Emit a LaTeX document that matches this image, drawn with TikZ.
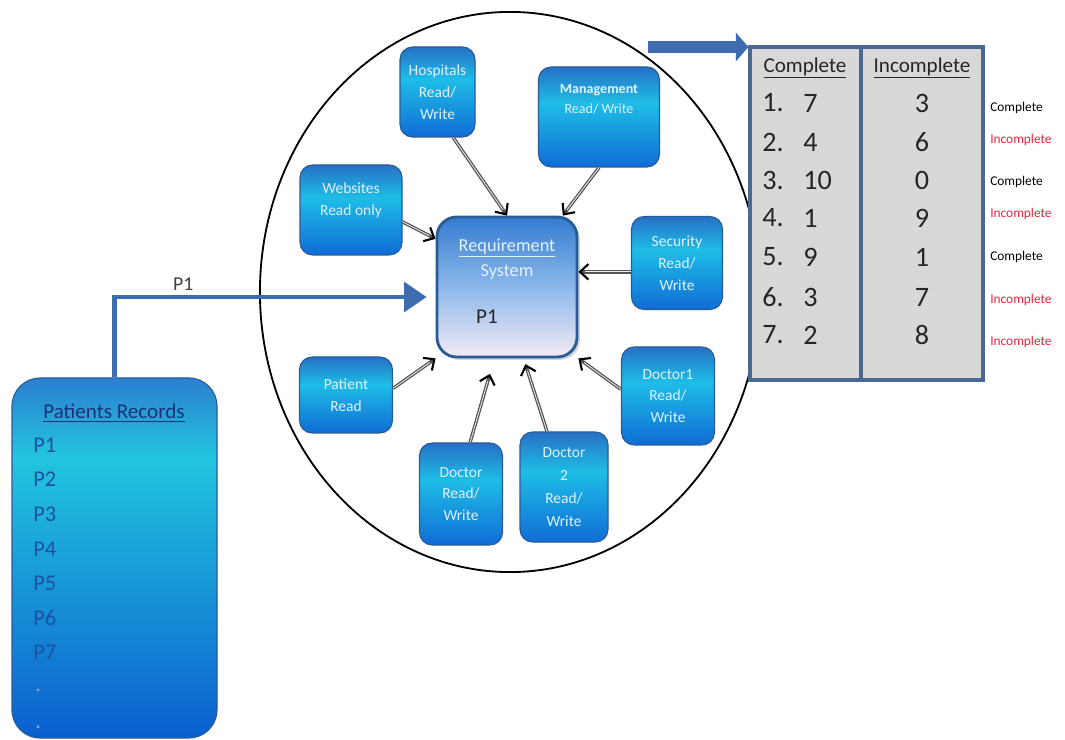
\documentclass[tikz,border=0pt]{standalone}
\usepackage{fontspec}
\setmainfont{Carlito}
\usetikzlibrary{arrows.meta,calc,shadows}
\definecolor{roletop}{RGB}{38,112,196}
\definecolor{rolemid}{RGB}{30,189,230}
\definecolor{rolebot}{RGB}{16,108,214}
\definecolor{roleedge}{RGB}{40,92,150}
\definecolor{roletext}{RGB}{222,242,255}
\definecolor{rectop}{RGB}{44,127,208}
\definecolor{recmid}{RGB}{34,197,222}
\definecolor{recbot}{RGB}{11,95,207}
\definecolor{rectext}{RGB}{28,82,160}
\definecolor{rechead}{RGB}{25,50,120}
\definecolor{reqtop}{RGB}{52,124,208}
\definecolor{reqmid}{RGB}{140,184,234}
\definecolor{reqbot}{RGB}{244,234,244}
\definecolor{flowblue}{RGB}{61,109,176}
\definecolor{tblgray}{RGB}{216,216,216}
\definecolor{tbledge}{RGB}{74,104,150}
\definecolor{incred}{RGB}{226,40,62}
\pgfdeclareverticalshading{rolefill}{100bp}{color(0bp)=(rolebot); color(25bp)=(rolebot); color(57bp)=(rolemid); color(75bp)=(roletop); color(100bp)=(roletop)}
\pgfdeclareverticalshading{recfill}{100bp}{color(0bp)=(recbot); color(25bp)=(recbot); color(64bp)=(recmid); color(75bp)=(rectop); color(100bp)=(rectop)}
\pgfdeclareverticalshading{reqfill}{100bp}{color(0bp)=(reqbot); color(25bp)=(reqbot); color(50bp)=(reqmid); color(75bp)=(reqtop); color(100bp)=(reqtop)}
\newcommand{\rolebox}[7][]{% #1: extra options, #2: name, #3: x, #4: y, #5: width, #6: height, #7: text
	\node[role,minimum width=#5*0.025cm,minimum height=#6*0.025cm,#1] (#2) at (#3,#4) {#7};
}

\begin{document}
\begin{tikzpicture}[x=0.025cm,y=-0.025cm,
	role/.style={draw=roleedge,line width=0.8pt,rounded corners=9pt,shading=rolefill,
		text=roletext,align=center,inner sep=0pt,font=\fontsize{11}{15.5}\selectfont},
	conn/.style={draw=gray!65!black,line width=2.4pt,
		-{Straight Barb[length=6pt,width=11pt,line width=1.5pt,color=black]},
		postaction={draw=gray!15,line width=0.6pt,-,shorten >=5pt}},
	flow/.style={draw=flowblue,line width=3pt},
	tblcol/.style={draw=tbledge,line width=2.2pt,fill=tblgray},
	tbltxt/.style={inner sep=0pt,text=black!85,font=\fontsize{20}{24}\selectfont},
	rectxt/.style={inner sep=0pt,text=rectext,font=\fontsize{16}{20}\selectfont}]
	% Canvas
	\fill[white] (0,0) rectangle (1065,740);
	\useasboundingbox (0,0) rectangle (1065,740);
	
	% The system boundary
	\draw[line width=1.3pt] (510,292) ellipse [x radius=6.25cm,y radius=7cm];
	
	% Requirement system in the middle
	\node[draw=roleedge,line width=2pt,rounded corners=14pt,shading=reqfill,
		minimum width=140*0.025cm,minimum height=140*0.025cm,
		drop shadow={opacity=0.35,shadow xshift=2pt,shadow yshift=-2pt}] (req) at (507,287) {};
	\node[text=roletext,align=center,font=\fontsize{13}{17.7}\selectfont] (reqname) at (507,259) {\underline{Requirement}\\System};
	\node[text=black!85,font=\fontsize{15}{16}\selectfont] (reqp1) at (487,317) {P1};
	
	% Users with their rights
	\rolebox{hosp}{437.5}{92}{75}{90}{Hospitals\\Read/\\Write}
	\rolebox[font=\bfseries\fontsize{10}{14}\selectfont,text depth=26pt]{mgmt}{599}{117}{121}{100}{Management\\\mdseries Read/ Write}
	\rolebox[text depth=16pt]{web}{351}{210}{102}{90}{Websites\\Read only}
	\rolebox{sec}{677}{263}{91}{93}{Security\\Read/\\Write}
	\rolebox{pat}{346}{395}{93}{76}{Patient\\Read}
	\rolebox{doc1}{668}{396}{93}{98}{Doctor1\\Read/\\Write}
	\rolebox{doc}{461}{494}{83}{102}{Doctor\\Read/\\Write}
	\rolebox[font=\fontsize{11}{16.5}\selectfont]{doc2}{564}{487}{88}{110}{Doctor\\2\\Read/\\Write}
	
	% Access arrows
	\draw[conn] (hosp.-71) -- (req.north);
	\draw[conn] (mgmt.south) -- (req.52);
	\draw[conn] (web.-13) -- (req.146);
	\draw[conn] (sec.west |- req.12) -- (req.12);
	\draw[conn] (pat.8) -- (req.south west);
	\draw[conn] (doc.80) -- ($(req.-100)!0.4cm!(doc.80)$);
	\draw[conn] (doc2.107) -- ($(req.-77)!0.15cm!(doc2.107)$);
	\draw[conn] (doc1.172) -- (req.south east);
	
	% Patients records
	\node[draw=roleedge,line width=0.8pt,rounded corners=20pt,shading=recfill,
		minimum width=205*0.025cm,minimum height=360*0.025cm] (rec) at (114.5,558) {};
	\node[text=rechead,inner sep=0pt,font=\fontsize{15}{18}\selectfont] (rechd) at (114,413) {\underline{Patients Records}};
	\foreach \i in {1,...,7}
		\node[rectxt,anchor=west] (p\i) at (33,{445+34.6*(\i-1)}) {P\i};
	\node[rectxt,anchor=west,text=rectext!50] (dot1) at (35,690) {.};
	\node[rectxt,anchor=west,text=rectext!50] (dot2) at (35,727) {.};
	
	% Record P1 goes into the system
	\coordinate (p1end) at ($(req.west)+(-9,10)$);
	\draw[flow,-{Triangle[length=16pt,width=21pt]}] (rec.north) |- (p1end)
		node[pos=0.61,above,text=black!75,font=\fontsize{14}{16}\selectfont] (p1lbl) {P1};
	
	% Result table
	\node[tblcol,minimum width=111*0.025cm,minimum height=333*0.025cm] (colc) at (805.5,213.5) {};
	\node[tblcol,minimum width=122*0.025cm,minimum height=333*0.025cm] (coli) at (922,213.5) {};
	\coordinate (outstart) at (648,47);
	\draw[flowblue,line width=9pt,-{Triangle[length=9pt,width=20pt]}] (outstart) -- (outstart -| colc.west);
	
	\node[inner sep=0pt,text=black!85,font=\fontsize{15}{18}\selectfont] (hdc) at (805,68) {\underline{Complete}};
	\node[inner sep=0pt,text=black!85,font=\fontsize{15}{18}\selectfont] (hdi) at (922,68) {\underline{Incomplete}};
	\foreach \c/\ic/\y [count=\i] in {7/3/103,4/6/142,10/0/180,1/9/218,9/1/257,3/7/297,2/8/335} {
		\node[tbltxt,anchor=west] (num\i) at (762,\y) {\i.};
		\node[tbltxt,anchor=west] (cval\i) at (803,\y) {\c};
		\node[tbltxt] (ival\i) at (922,\y) {\ic};
	}
	\foreach \t/\col/\y [count=\i] in {Complete/black/108,Incomplete/incred/140,Complete/black/182,
		Incomplete/incred/214,Complete/black/257,Incomplete/incred/300,Incomplete/incred/342}
		\node[anchor=west,inner sep=0pt,text=\col,font=\fontsize{9.5}{11}\selectfont] (state\i) at (990,\y) {\t};
\end{tikzpicture}
\end{document}
